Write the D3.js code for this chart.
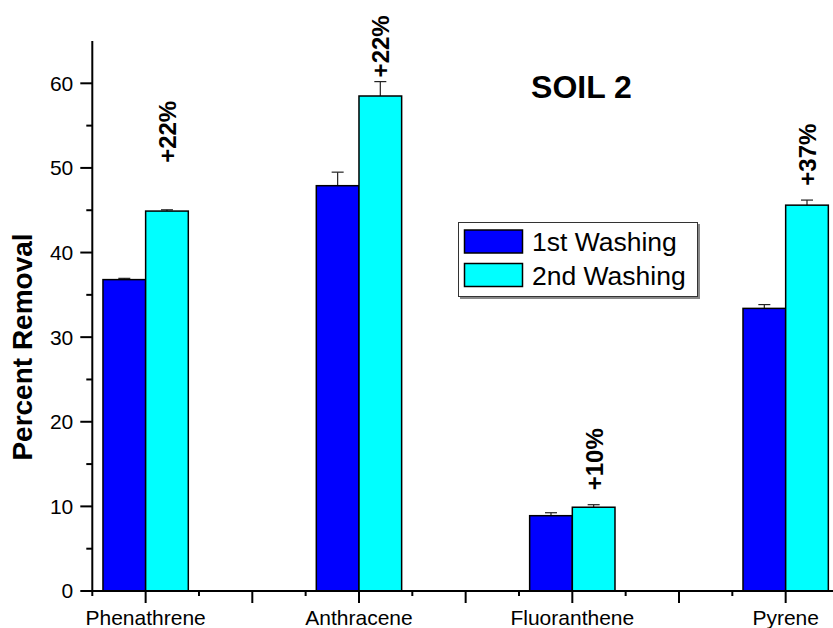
<!DOCTYPE html>
<html>
<head>
<meta charset="utf-8">
<script src="https://cdn.jsdelivr.net/npm/d3@7"></script>
<style>
  html, body { margin: 0; padding: 0; background: #fff; }
  svg { display: block; }
  text { font-family: "Liberation Sans", Arial, Helvetica, sans-serif; }
</style>
</head>
<body>
<svg id="chart" width="833" height="628"></svg>
<script>
// ---- data ----
const categories = ["Phenathrene", "Anthracene", "Fluoranthene", "Pyrene"];
const catPos = [1, 2, 3, 4];
const firstWashing = [36.8, 47.9, 8.9, 33.4];
const firstErr = [0.15, 1.6, 0.35, 0.45];
const secondWashing = [44.9, 58.5, 9.9, 45.6];
const secondErr = [0.15, 1.7, 0.3, 0.6];
const increaseLabels = ["+22%", "+22%", "+10%", "+37%"];
const labelStart = [50.6, 60.7, 11.9, 47.9];
const seriesNames = ["1st Washing", "2nd Washing"];
const seriesColors = ["#0000FF", "#00FFFF"];
const yTicksMajor = [0, 10, 20, 30, 40, 50, 60];
const yTicksMinor = [5, 15, 25, 35, 45, 55];
const chartTitle = "SOIL 2";
const yTitle = "Percent Removal";

// ---- layout ----
const svg = d3.select("#chart");
const x = d3.scaleLinear().domain([0.75, 4.25]).range([92.3, 839]);
const y = d3.scaleLinear().domain([0, 65]).range([591, 41]);
const barW = 0.2;

// bars
const series = [
  { vals: firstWashing, errs: firstErr, off: -barW, color: seriesColors[0] },
  { vals: secondWashing, errs: secondErr, off: 0, color: seriesColors[1] }
];

series.forEach(s => {
  const g = svg.append("g");
  // error bars (upward only)
  g.selectAll("line.err").data(catPos).enter().append("line")
    .attr("x1", (d, i) => x(d + s.off + barW / 2))
    .attr("x2", (d, i) => x(d + s.off + barW / 2))
    .attr("y1", (d, i) => y(s.vals[i]))
    .attr("y2", (d, i) => y(s.vals[i] + s.errs[i]))
    .attr("stroke", "#222").attr("stroke-width", 1.2);
  g.selectAll("line.cap").data(catPos).enter().append("line")
    .attr("x1", (d, i) => x(d + s.off + barW / 2) - 6)
    .attr("x2", (d, i) => x(d + s.off + barW / 2) + 6)
    .attr("y1", (d, i) => y(s.vals[i] + s.errs[i]))
    .attr("y2", (d, i) => y(s.vals[i] + s.errs[i]))
    .attr("stroke", "#222").attr("stroke-width", 1.2);
  g.selectAll("rect").data(catPos).enter().append("rect")
    .attr("x", d => x(d + s.off))
    .attr("width", d => x(d + s.off + barW) - x(d + s.off))
    .attr("y", (d, i) => y(s.vals[i]))
    .attr("height", (d, i) => y(0) - y(s.vals[i]))
    .attr("fill", s.color)
    .attr("stroke", "#000").attr("stroke-width", 1.5);
});

// increase labels
svg.append("g").selectAll("text").data(catPos).enter().append("text")
  .attr("transform", (d, i) => `translate(${x(d + barW / 2) + 9},${y(labelStart[i])}) rotate(-90)`)
  .attr("text-anchor", "start")
  .attr("font-size", 24).attr("font-weight", "bold")
  .text((d, i) => increaseLabels[i]);

// y axis
const yAxis = svg.append("g");
yAxis.append("line").attr("x1", x(0.75)).attr("x2", x(0.75))
  .attr("y1", y(65)).attr("y2", y(0) + 1)
  .attr("stroke", "#000").attr("stroke-width", 2);
yAxis.selectAll("line.maj").data(yTicksMajor).enter().append("line")
  .attr("x1", x(0.75) - 12).attr("x2", x(0.75))
  .attr("y1", d => y(d)).attr("y2", d => y(d))
  .attr("stroke", "#000").attr("stroke-width", 2);
yAxis.selectAll("line.min").data(yTicksMinor).enter().append("line")
  .attr("x1", x(0.75) - 6).attr("x2", x(0.75))
  .attr("y1", d => y(d)).attr("y2", d => y(d))
  .attr("stroke", "#000").attr("stroke-width", 2);
yAxis.selectAll("text").data(yTicksMajor).enter().append("text")
  .attr("x", x(0.75) - 19).attr("y", d => y(d))
  .attr("dy", "0.35em").attr("text-anchor", "end")
  .attr("font-size", 21).text(d => d);

// x axis
const xAxis = svg.append("g");
xAxis.append("line").attr("x1", x(0.75) - 1).attr("x2", 833)
  .attr("y1", y(0)).attr("y2", y(0))
  .attr("stroke", "#000").attr("stroke-width", 2);
const xTicks = d3.range(0.75, 4.26, 0.25);
xAxis.selectAll("line.t").data(xTicks).enter().append("line")
  .attr("x1", d => x(d)).attr("x2", d => x(d))
  .attr("y1", y(0)).attr("y2", d => y(0) + (Math.abs(d * 2 - Math.round(d * 2)) < 1e-6 ? 12 : 5))
  .attr("stroke", "#000").attr("stroke-width", 2);
xAxis.selectAll("text").data(catPos).enter().append("text")
  .attr("x", d => x(d)).attr("y", 625)
  .attr("text-anchor", "middle").attr("font-size", 21)
  .text((d, i) => categories[i]);

// y title
svg.append("text")
  .attr("transform", `translate(32,${(y(0) + y(65)) / 2 + 31}) rotate(-90)`)
  .attr("text-anchor", "middle").attr("font-size", 28).attr("font-weight", "bold")
  .text(yTitle);

// chart title
svg.append("text").attr("x", 581.5).attr("y", 98)
  .attr("text-anchor", "middle").attr("font-size", 32).attr("font-weight", "bold")
  .text(chartTitle);

// legend
const lg = svg.append("g");
lg.append("rect").attr("x", 460).attr("y", 224).attr("width", 240).attr("height", 75)
  .attr("fill", "#888");
lg.append("rect").attr("x", 458.5).attr("y", 222.5).attr("width", 239).attr("height", 74)
  .attr("fill", "#fff").attr("stroke", "#333").attr("stroke-width", 1);
lg.selectAll("rect.sw").data(seriesNames).enter().append("rect")
  .attr("x", 464.5).attr("y", (d, i) => 230 + i * 33.5)
  .attr("width", 58).attr("height", 23)
  .attr("fill", (d, i) => seriesColors[i])
  .attr("stroke", "#000").attr("stroke-width", 1.5);
lg.selectAll("text").data(seriesNames).enter().append("text")
  .attr("x", 532).attr("y", (d, i) => 251 + i * 33.5)
  .attr("font-size", 26.5).text(d => d);
</script>
</body>
</html>
